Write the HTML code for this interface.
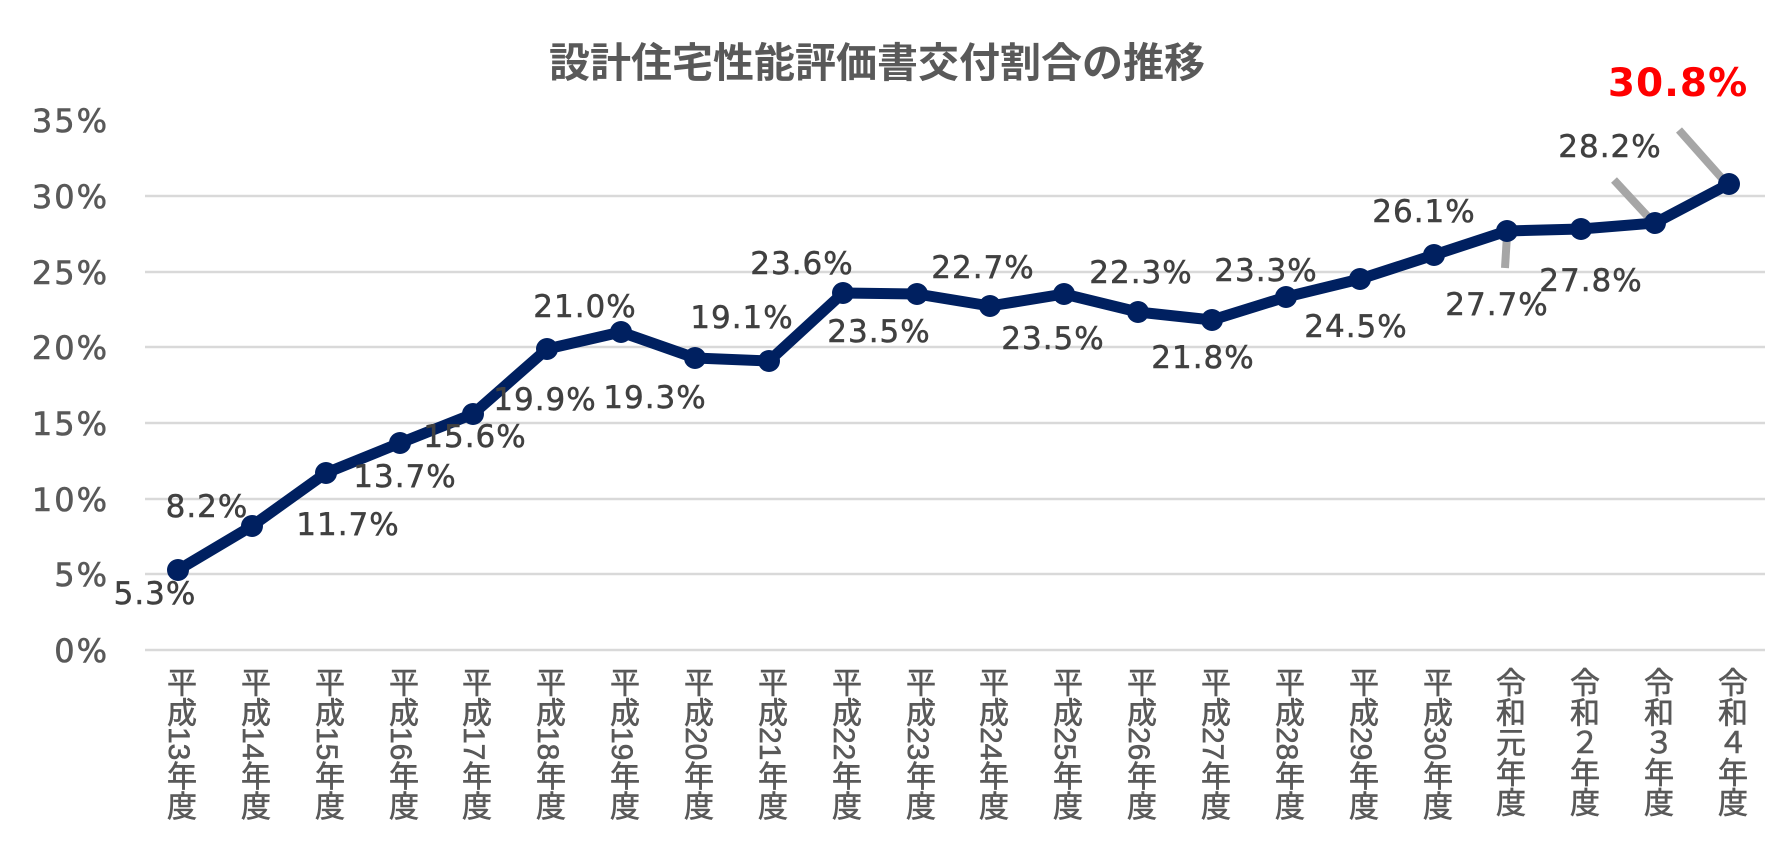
<!DOCTYPE html>
<html><head><meta charset="utf-8">
<style>
html,body{margin:0;padding:0;background:#fff;}
#c{position:relative;width:1772px;height:846px;overflow:hidden;background:#fff;}
.xl{position:absolute;top:667px;writing-mode:vertical-rl;text-orientation:mixed;font-family:"Liberation Sans","Noto Sans CJK JP",sans-serif;font-size:30px;line-height:30px;color:#595959;width:30px;-webkit-text-stroke:0.6px #595959;}
svg{position:absolute;left:0;top:0;}
</style></head><body><div id="c">
<svg width="1772" height="846" xmlns="http://www.w3.org/2000/svg">
<text x="877" y="77" text-anchor="middle" font-family="Liberation Sans,Noto Sans CJK JP,sans-serif" font-size="41" font-weight="bold" fill="#595959">設計住宅性能評価書交付割合の推移</text>
<g stroke="#d9d9d9" stroke-width="2.5">
<line x1="145" x2="1765" y1="650" y2="650"/><line x1="145" x2="1765" y1="574" y2="574"/><line x1="145" x2="1765" y1="499" y2="499"/><line x1="145" x2="1765" y1="423" y2="423"/><line x1="145" x2="1765" y1="347" y2="347"/><line x1="145" x2="1765" y1="272" y2="272"/><line x1="145" x2="1765" y1="196" y2="196"/>
</g>
<g font-family="DejaVu Sans,sans-serif" font-size="32" letter-spacing="2" fill="#595959" stroke="#595959" stroke-width="0.6" text-anchor="end">
<text x="109" y="662">0%</text><text x="109" y="586">5%</text><text x="109" y="511">10%</text><text x="109" y="435">15%</text><text x="109" y="359">20%</text><text x="109" y="284">25%</text><text x="109" y="208">30%</text><text x="109" y="132">35%</text>
</g>
<g stroke="#a6a6a6" stroke-width="8">
<line x1="1507" y1="235" x2="1505" y2="268"/>
<line x1="1614" y1="180" x2="1652" y2="221"/>
<line x1="1679" y1="130" x2="1727" y2="184"/>
</g>
<polyline fill="none" stroke="#002060" stroke-width="11" stroke-linejoin="round" points="178,570 252,526 326,473 400,443 473,414 547,349 621,332 695,358 769,361 843,293 917,294 990,306 1064,294 1138,312 1212,320 1286,297 1360,279 1434,255 1507,231 1581,229 1655,223 1729,184"/>
<g fill="#002060">
<circle cx="178" cy="570" r="11"/><circle cx="252" cy="526" r="11"/><circle cx="326" cy="473" r="11"/><circle cx="400" cy="443" r="11"/><circle cx="473" cy="414" r="11"/><circle cx="547" cy="349" r="11"/><circle cx="621" cy="332" r="11"/><circle cx="695" cy="358" r="11"/><circle cx="769" cy="361" r="11"/><circle cx="843" cy="293" r="11"/><circle cx="917" cy="294" r="11"/><circle cx="990" cy="306" r="11"/><circle cx="1064" cy="294" r="11"/><circle cx="1138" cy="312" r="11"/><circle cx="1212" cy="320" r="11"/><circle cx="1286" cy="297" r="11"/><circle cx="1360" cy="279" r="11"/><circle cx="1434" cy="255" r="11"/><circle cx="1507" cy="231" r="11"/><circle cx="1581" cy="229" r="11"/><circle cx="1655" cy="223" r="11"/><circle cx="1729" cy="184" r="11"/>
</g>
<g font-family="DejaVu Sans,sans-serif" font-size="31" letter-spacing="1" fill="#404040" stroke="#404040" stroke-width="0.5" text-anchor="middle">
<text x="155" y="604">5.3%</text>
<text x="207" y="517">8.2%</text>
<text x="348" y="535">11.7%</text>
<text x="405" y="487">13.7%</text>
<text x="475" y="447">15.6%</text>
<text x="545" y="410">19.9%</text>
<text x="585" y="317">21.0%</text>
<text x="655" y="408">19.3%</text>
<text x="742" y="328">19.1%</text>
<text x="802" y="274">23.6%</text>
<text x="879" y="342">23.5%</text>
<text x="983" y="278">22.7%</text>
<text x="1053" y="349">23.5%</text>
<text x="1141" y="283">22.3%</text>
<text x="1203" y="368">21.8%</text>
<text x="1266" y="281">23.3%</text>
<text x="1356" y="337">24.5%</text>
<text x="1424" y="222">26.1%</text>
<text x="1497" y="315">27.7%</text>
<text x="1591" y="291">27.8%</text>
<text x="1610" y="157">28.2%</text>
</g>
<text x="1678" y="96" text-anchor="middle" font-family="DejaVu Sans,sans-serif" font-size="39" font-weight="bold" letter-spacing="1" fill="#ff0000">30.8%</text>
</svg>
<div class="xl" style="left:163px">平成13年度</div>
<div class="xl" style="left:237px">平成14年度</div>
<div class="xl" style="left:311px">平成15年度</div>
<div class="xl" style="left:385px">平成16年度</div>
<div class="xl" style="left:458px">平成17年度</div>
<div class="xl" style="left:532px">平成18年度</div>
<div class="xl" style="left:606px">平成19年度</div>
<div class="xl" style="left:680px">平成20年度</div>
<div class="xl" style="left:754px">平成21年度</div>
<div class="xl" style="left:828px">平成22年度</div>
<div class="xl" style="left:902px">平成23年度</div>
<div class="xl" style="left:975px">平成24年度</div>
<div class="xl" style="left:1049px">平成25年度</div>
<div class="xl" style="left:1123px">平成26年度</div>
<div class="xl" style="left:1197px">平成27年度</div>
<div class="xl" style="left:1271px">平成28年度</div>
<div class="xl" style="left:1345px">平成29年度</div>
<div class="xl" style="left:1419px">平成30年度</div>
<div class="xl" style="left:1492px">令和元年度</div>
<div class="xl" style="left:1566px">令和２年度</div>
<div class="xl" style="left:1640px">令和３年度</div>
<div class="xl" style="left:1714px">令和４年度</div>
</div></body></html>
